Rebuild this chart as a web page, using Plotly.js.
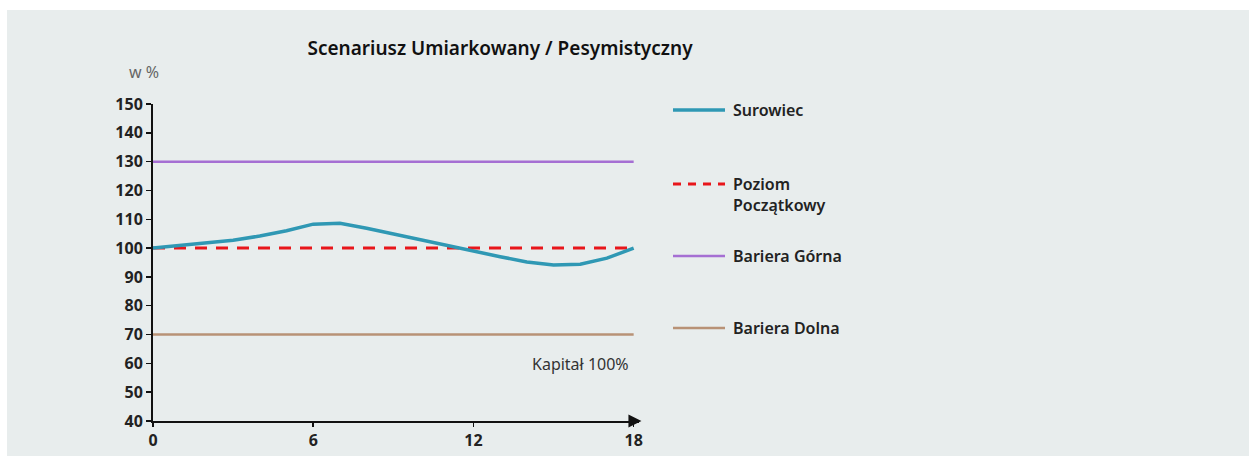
<!DOCTYPE html>
<html>
<head>
<meta charset="utf-8">
<script src="https://cdn.plot.ly/plotly-3.0.1.min.js"></script>
<style>
  html, body { margin: 0; padding: 0; background: #ffffff; width: 1249px; height: 456px; overflow: hidden; }
  #chart { position: absolute; left: 7px; top: 10px; width: 1242px; height: 446px; }
</style>
</head>
<body>
<div id="chart"></div>
<script>
// ---- data ----
const months = [0, 1, 2, 3, 4, 5, 6, 7, 8, 9, 10, 11, 12, 13, 14, 15, 16, 17, 18];
const surowiec = [100, 100.9, 101.8, 102.7, 104.2, 106, 108.3, 108.6, 106.9, 104.9, 102.7, 100.7, 99, 97, 95.2, 94.1, 94.4, 96.5, 100];
const poziomPoczatkowy = 100;
const barieraGorna = 130;
const barieraDolna = 70;
const xTickVals = [0, 6, 12, 18];
const seriesNames = ["Surowiec", "Poziom<br>Początkowy", "Bariera Górna", "Bariera Dolna"];
const titleText = "Scenariusz Umiarkowany / Pesymistyczny";
const unitText = "w %";
const noteText = "Kapitał 100%";

// ---- styles ----
const BG = "#e8eded";
const styles = [
  { color: "#2f98b4", width: 3.5, dash: "solid" },
  { color: "#e8161b", width: 3, dash: "12px,9px" },
  { color: "#a56fd3", width: 2.5, dash: "solid" },
  { color: "#b89276", width: 2.5, dash: "solid" }
];
const FONT = "Noto Sans, Open Sans, sans-serif";

const L = 146, T = 94, W = 486, H = 317;
const px = xp => (xp - 7 - L) / W;
const py = yp => 1 - ((yp - 10) - T) / H;

const flat = v => months.map(() => v);

const traces = [
  { x: months, y: flat(barieraDolna), mode: "lines", line: styles[3], name: seriesNames[3], hoverinfo: "skip" },
  { x: months, y: flat(barieraGorna), mode: "lines", line: styles[2], name: seriesNames[2], hoverinfo: "skip" },
  { x: months, y: flat(poziomPoczatkowy), mode: "lines", line: styles[1], name: seriesNames[1], hoverinfo: "skip" },
  { x: months, y: surowiec, mode: "lines", line: Object.assign({ shape: "linear" }, styles[0]), name: seriesNames[0], hoverinfo: "skip" }
];

const legendRows = [110, 194, 256, 328];
const legendLineY = [110, 184, 256, 328];
const shapes = [];
const annotations = [];
for (let i = 0; i < 4; i++) {
  shapes.push({
    type: "line", xref: "paper", yref: "paper",
    x0: px(673), x1: px(725), y0: py(legendLineY[i]), y1: py(legendLineY[i]),
    line: { color: styles[i].color, width: styles[i].width, dash: styles[i].dash === "solid" ? "solid" : "8px,7px" }
  });
  annotations.push({
    xref: "paper", yref: "paper", x: px(731), y: py(legendRows[i]),
    xanchor: "left", yanchor: "middle", align: "left", showarrow: false,
    text: seriesNames[i],
    font: { family: FONT, size: 16, color: "#222222", weight: 600 }
  });
}
annotations.push({
  xref: "paper", yref: "paper", x: px(161), y: py(72), xanchor: "right", yanchor: "middle",
  showarrow: false, text: unitText, font: { family: FONT, size: 16, color: "#666666" }
});
annotations.push({
  xref: "paper", yref: "paper", x: px(631), y: py(364), xanchor: "right", yanchor: "middle",
  showarrow: false, text: noteText, font: { family: FONT, size: 16, color: "#333333" }
});
annotations.push({
  xref: "paper", yref: "paper", x: 1.005, y: 0, ax: -14, ay: 0, axref: "pixel", ayref: "pixel",
  showarrow: true, arrowhead: 2, arrowsize: 1.3, arrowwidth: 2, arrowcolor: "#111111", text: ""
});

const layout = {
  width: 1242, height: 446,
  margin: { l: L, r: 1242 - L - W, t: T, b: 446 - T - H, pad: 0 },
  paper_bgcolor: BG, plot_bgcolor: BG,
  showlegend: false,
  title: {
    text: titleText, xref: "container", yref: "container",
    x: (500 - 7) / 1242, xanchor: "center", y: 1 - (48 - 10) / 446, yanchor: "middle",
    font: { family: FONT, size: 19, color: "#111111", weight: 600 }
  },
  xaxis: {
    range: [0, 18.2], tickvals: xTickVals, ticktext: xTickVals.map(String),
    showgrid: false, zeroline: false, showline: true, linecolor: "#111111", linewidth: 2,
    ticks: "outside", ticklen: 4, tickwidth: 1.5, tickcolor: "#111111",
    tickfont: { family: FONT, size: 16, color: "#222222", weight: "bold" }
  },
  yaxis: {
    range: [40, 150], dtick: 10, tick0: 40,
    showgrid: false, zeroline: false, showline: true, linecolor: "#111111", linewidth: 2,
    ticks: "outside", ticklen: 5, tickwidth: 1.5, tickcolor: "#111111",
    tickfont: { family: FONT, size: 16, color: "#222222", weight: "bold" }
  },
  shapes: shapes,
  annotations: annotations
};

Plotly.newPlot("chart", traces, layout, { displayModeBar: false, staticPlot: true });
</script>
</body>
</html>
